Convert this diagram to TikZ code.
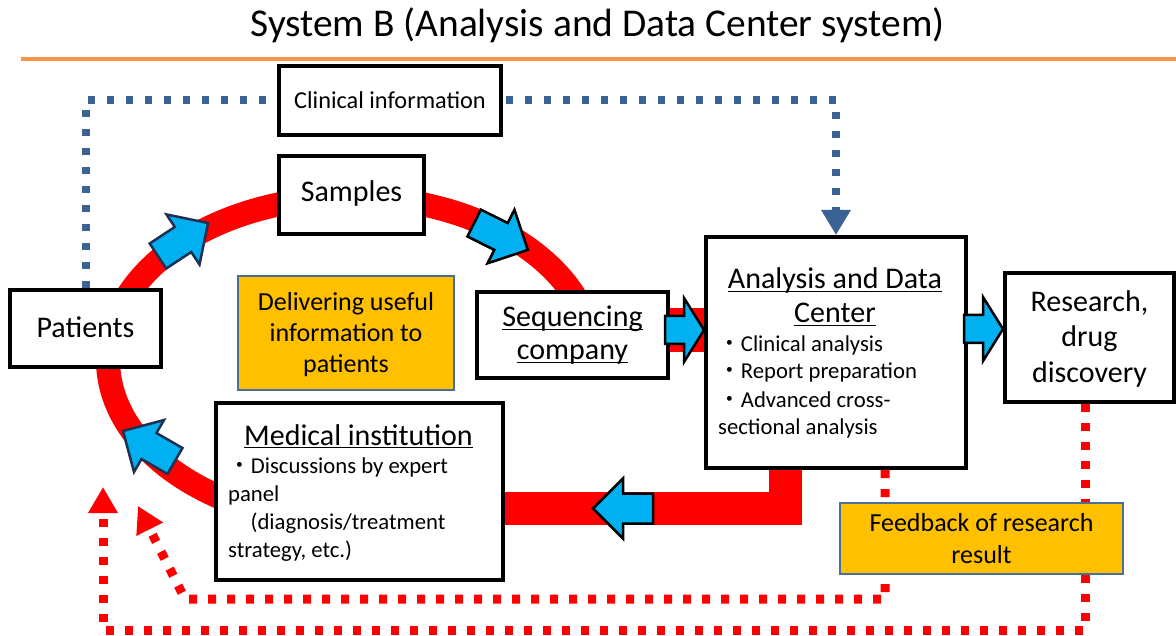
\documentclass[tikz,border=0pt]{standalone}
\usepackage{fontspec}
\setmainfont{Carlito}
\newfontfamily\cjk{Noto Sans CJK JP}
\usetikzlibrary{arrows.meta}
\definecolor{dotblue}{HTML}{3B6295}
\definecolor{arrowblue}{HTML}{00B0F0}
\definecolor{arrowedge}{HTML}{1F3050}
\definecolor{gold}{HTML}{FFC000}
\definecolor{goldedge}{HTML}{4A6E9A}
\definecolor{rulecol}{HTML}{F79646}
\newcommand\bul{{\cjk ・}}
\pgfdeclarelayer{back}
\pgfsetlayers{back,main}
\begin{document}
\begin{tikzpicture}[x=1pt,y=-1pt,
  box/.style={draw=black, line width=4pt, fill=white, inner sep=0pt},
  goldbox/.style={draw=goldedge, line width=2pt, fill=gold, inner sep=0pt},
  big/.style={inner sep=0pt, anchor=base, font=\fontsize{30}{35}\selectfont},
  mid/.style={inner sep=0pt, anchor=base, font=\fontsize{26}{31}\selectfont},
  cli/.style={inner sep=0pt, anchor=base, font=\fontsize{24.3}{29}\selectfont},
  small/.style={inner sep=0pt, anchor=base west, font=\fontsize{22.7}{28}\selectfont},
  ulin/.style={line width=1.8pt},
  bluedot/.style={draw=dotblue, line width=8pt, dash pattern=on 7pt off 12pt, -{Triangle[length=25pt,width=28pt]}},
  reddot/.style={draw=red, line width=9pt, dash pattern=on 8pt off 11pt, -{Triangle[length=26pt,width=28pt]}},
  redbar/.style={draw=red, line width=33pt},
  blk/.style={fill=arrowblue, draw=black, line width=2.5pt, line join=miter},
  ringarrow/.pic={\filldraw[blk] (30,0) -- (0,-30) -- (0,-15) -- (-30,-15) -- (-30,15) -- (0,15) -- (0,30) -- cycle;},
  shortarrow/.pic={\filldraw[blk] (0,0) -- (-20,-32) -- (-20,-14) -- (-39,-14) -- (-39,14) -- (-20,14) -- (-20,32) -- cycle;},
]
\useasboundingbox (0,0) rectangle (1176,636);

% title and rule
\node[inner sep=0pt, anchor=base, font=\fontsize{39.4}{45}\selectfont] (title) at (597.5,37) {System B (Analysis and Data Center system)};
\coordinate (rl) at (21,59.5);
\coordinate (rr) at (1176,59.5);

% boxes
\node[box, minimum width=222pt, minimum height=69pt] (clin) at (390,100.5) {};
\node[box, minimum width=145pt, minimum height=78pt] (sam) at (351.5,195) {};
\node[box, minimum width=151pt, minimum height=77pt] (pat) at (85.5,328.5) {};
\node[goldbox, minimum width=216pt, minimum height=114pt] (del) at (346,333) {};
\node[box, minimum width=191pt, minimum height=86pt] (seq) at (572.5,335) {};
\node[box, minimum width=260pt, minimum height=231pt] (adc) at (836,352.5) {};
\node[box, minimum width=169pt, minimum height=129pt] (res) at (1089.5,337.5) {};
\node[box, minimum width=287pt, minimum height=177pt] (med) at (359.5,491.5) {};
\node[goldbox, minimum width=283pt, minimum height=71pt] (feed) at (981.5,538.5) {};

% texts
\node[cli] (tclin) at (390,109) {Clinical information};
\node[big] (tsam) at (351.5,202) {Samples};
\node[big] (tpat) at (85.5,338) {Patients};
\node[mid] (tdel1) at (346,311) {Delivering useful};
\node[mid] (tdel2) at (346,342) {information to};
\node[mid] (tdel3) at (346,373) {patients};
\node[big] (tseq1) at (572.5,327) {Sequencing};
\node[big] (tseq2) at (572.5,360) {company};
\node[big] (tadc1) at (835,289) {Analysis and Data};
\node[big] (tadc2) at (835,323) {Center};
\node[small] (tadc3) at (718,352) {\bul Clinical analysis};
\node[small] (tadc4) at (718,379) {\bul Report preparation};
\node[small] (tadc5) at (718,407) {\bul Advanced cross-};
\node[small] (tadc6) at (718,435) {sectional analysis};
\node[big] (tres1) at (1089.5,312) {Research,};
\node[big] (tres2) at (1089.5,347) {drug};
\node[big] (tres3) at (1089.5,382) {discovery};
\node[big] (tmed1) at (358.5,445) {Medical institution};
\node[small] (tmed2) at (228,473) {\bul Discussions by expert};
\node[small] (tmed3) at (228,501) {panel};
\node[small] (tmed4) at (228,529) {\hspace{22.5pt}(diagnosis/treatment};
\node[small] (tmed5) at (228,557) {strategy, etc.)};
\node[mid] (tfeed1) at (981.5,531) {Feedback of research};
\node[mid] (tfeed2) at (981.5,563) {result};

% underlines
\foreach \t in {tseq1,tseq2,tadc1,tadc2,tmed1}{
  \draw[ulin] ([yshift=-2.5pt]\t.base west) -- ([yshift=-2.5pt]\t.base east);
}

% helper coordinates
\coordinate (y330) at (0,330);
\coordinate (y329) at (0,329);
\coordinate (bc) at (785.5,508.5);
\coordinate (o1) at (1085,630);
\coordinate (o2) at (103,630);
\coordinate (o3) at (103,487);
\coordinate (i1) at (885,599);
\coordinate (i2) at (185,599);
\coordinate (i3) at (138,506);

\begin{pgfonlayer}{back}
  \fill[white] (0,0) rectangle (1176,636);
  \draw[rulecol, line width=4pt] (rl) -- (rr);
  % clinical information flow
  \draw[bluedot] (pat.north) -- (pat.north |- clin.west) -- (adc.north |- clin.west) -- (adc.north);
  % red loop
  \draw[red, line width=24pt] plot[domain=15:250, samples=150, smooth] ({351+243*cos(\x)}, {360-163*sin(\x)});
  \draw[red, line width=44pt] (seq.east |- y330) -- (adc.west |- y330);
  \draw[redbar, line join=miter] (bc |- adc.south) -- (bc) -- (bc -| med.east);
  % feedback flows
  \draw[reddot] (o1 |- res.south) -- (o1) -- (o2) -- (o3);
  \draw[reddot] (i1 |- adc.south) -- (i1) -- (i2) -- (i3);
\end{pgfonlayer}

% blue block arrows
\pic[rotate=33.4, blk/.append style={draw=arrowedge}] at (183,239.5) {ringarrow};
\pic[rotate=-26.6] at (501,236.5) {ringarrow};
\pic[rotate=150, blk/.append style={draw=arrowedge}] at (149,446) {ringarrow};
\pic[rotate=180] at (623,508.5) {ringarrow};
\pic at (adc.west |- y330) {shortarrow};
\pic at (res.west |- y329) {shortarrow};
\end{tikzpicture}
\end{document}
